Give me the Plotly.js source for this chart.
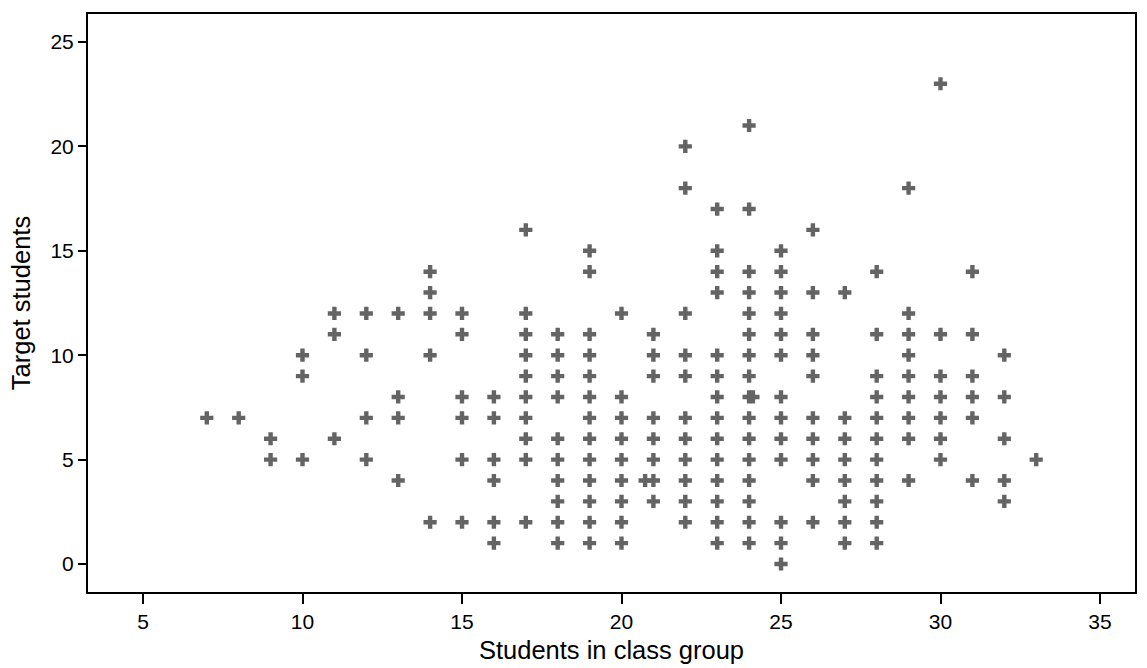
<!DOCTYPE html>
<html>
<head>
<meta charset="utf-8">
<script src="https://cdn.plot.ly/plotly-3.0.1.min.js"></script>
<style>html,body{margin:0;padding:0;background:#fff;}#chart{width:1147px;height:668px;}</style>
</head>
<body>
<div id="chart"></div>
<script>
// Students in class group (x) and the target-student counts observed at each class size
const classSizes = [7, 8, 9, 10, 11, 12, 13, 14, 15, 16, 17, 18, 19, 20, 20.74, 21, 22, 23, 24, 24.12, 25, 26, 27, 28, 29, 30, 31, 32, 33];
const targetStudents = [
  [7],
  [7],
  [6, 5],
  [10, 9, 5],
  [12, 11, 6],
  [12, 10, 7, 5],
  [12, 8, 7, 4],
  [14, 13, 12, 10, 2],
  [12, 11, 8, 7, 5, 2],
  [8, 7, 5, 4, 2, 1],
  [16, 12, 11, 10, 9, 8, 7, 6, 5, 2],
  [11, 10, 9, 8, 6, 5, 4, 3, 2, 1],
  [15, 14, 11, 10, 9, 8, 7, 6, 5, 4, 3, 2, 1],
  [12, 8, 7, 6, 5, 4, 3, 2, 1],
  [4],
  [11, 10, 9, 7, 6, 5, 4, 3],
  [20, 18, 12, 10, 9, 7, 6, 5, 4, 3, 2],
  [17, 15, 14, 13, 10, 9, 8, 7, 6, 5, 4, 3, 2, 1],
  [21, 17, 14, 13, 12, 11, 10, 9, 8, 7, 6, 5, 4, 3, 2, 1],
  [8],
  [15, 14, 13, 12, 11, 10, 8, 7, 6, 5, 2, 1, 0],
  [16, 13, 11, 10, 9, 7, 6, 5, 4, 2],
  [13, 7, 6, 5, 4, 3, 2, 1],
  [14, 11, 9, 8, 7, 6, 5, 4, 3, 2, 1],
  [18, 12, 11, 10, 9, 8, 7, 6, 4],
  [23, 11, 9, 8, 7, 6, 5],
  [14, 11, 9, 8, 7, 4],
  [10, 8, 6, 4, 3],
  [5]
];
const xTickVals = [5, 10, 15, 20, 25, 30, 35];
const yTickVals = [0, 5, 10, 15, 20, 25];
const xTitle = 'Students in class group';
const yTitle = 'Target students';

const xs = [], ys = [];
classSizes.forEach((c, i) => {
  targetStudents[i].forEach(v => { xs.push(c); ys.push(v); });
});

const trace = {
  x: xs, y: ys, type: 'scatter', mode: 'markers',
  marker: {symbol: 'cross', size: 11, color: '#646464', line: {width: 0}},
  hoverinfo: 'x+y'
};

const FONT = 'Liberation Sans';

const layout = {
  width: 1147, height: 668,
  margin: {l: 88, r: 12, t: 14, b: 76},
  paper_bgcolor: '#fff', plot_bgcolor: '#fff',
  showlegend: false,
  font: {family: FONT, color: '#000', size: 21},
  xaxis: {
    showline: true, mirror: true, linecolor: '#000', linewidth: 2,
    showgrid: false, zeroline: false,
    ticks: 'outside', ticklen: 10, tickwidth: 2, tickcolor: '#000',
    tickfont: {size: 21},
    range: [3.276, 36.097], tickmode: 'array', tickvals: xTickVals,
    title: {text: xTitle, font: {size: 25.5}, standoff: 9}
  },
  yaxis: {
    showline: true, mirror: true, linecolor: '#000', linewidth: 2,
    showgrid: false, zeroline: false,
    ticks: 'outside', ticklen: 8, tickwidth: 2, tickcolor: '#000',
    tickfont: {size: 21},
    range: [-1.34, 26.34], tickmode: 'array', tickvals: yTickVals,
    title: {text: yTitle, font: {size: 25.5}, standoff: 13}
  }
};

Plotly.newPlot('chart', [trace], layout, {displayModeBar: false, staticPlot: true});
</script>
</body>
</html>
